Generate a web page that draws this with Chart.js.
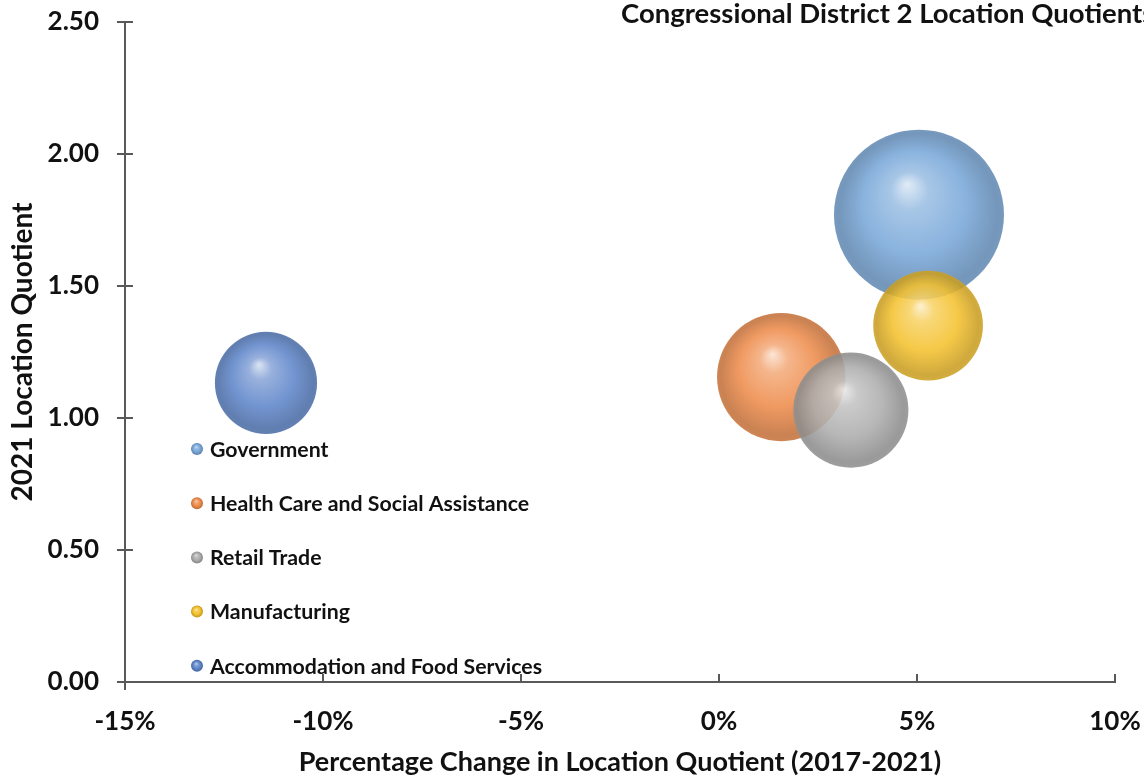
<!DOCTYPE html>
<html>
<head>
<meta charset="utf-8">
<script src="https://cdn.jsdelivr.net/npm/chart.js@4.4.1/dist/chart.umd.min.js"></script>
<style>
  html, body { margin: 0; padding: 0; background: #fff; overflow: hidden; }
  #wrap { width: 1144px; height: 778px; position: relative; }
</style>
</head>
<body>
<div id="wrap"><canvas id="chart"></canvas></div>
<script>
const title = "Congressional District 2 Location Quotients";
const categories = [
  "Government",
  "Health Care and Social Assistance",
  "Retail Trade",
  "Manufacturing",
  "Accommodation and Food Services"
];
const pctChange = [5.05, 1.57, 3.33, 5.28, -11.44];
const locationQuotient = [1.77, 1.155, 1.03, 1.35, 1.133];
const employment = [7200, 4100, 3300, 3000, 2600];
const xTicks = [-15, -10, -5, 0, 5, 10];
const yTicks = [0, 0.5, 1, 1.5, 2, 2.5];
const colors = ["#76a6d8", "#ee8a48", "#ababab", "#f4c02a", "#5c84c9"];

const FONT = "Lato, 'Open Sans', sans-serif";
const maxBubble = 85; // px radius for the largest bubble
const maxEmp = Math.max(...employment);

const rgb = (hex) => [1, 3, 5].map((i) => parseInt(hex.slice(i, i + 2), 16));
const mix = (hex, target, t, a = 1) => {
  const c = rgb(hex).map((v) => Math.round(v + (target - v) * t));
  return `rgba(${c[0]},${c[1]},${c[2]},${a})`;
};

// 3D-ish sphere fill like Excel's bubble effect
function sphere(ctx, cx, cy, r, hex, alpha) {
  if (![cx, cy, r].every(Number.isFinite) || r <= 0) return mix(hex, 0, 0, alpha);
  const g = ctx.createRadialGradient(cx - 0.14 * r, cy - 0.36 * r, 0, cx, cy, r);
  g.addColorStop(0, mix(hex, 255, 0.75, alpha));
  g.addColorStop(0.22, mix(hex, 255, 0.28, alpha));
  g.addColorStop(0.6, mix(hex, 255, 0.02, alpha));
  g.addColorStop(0.93, mix(hex, 0, 0.18, alpha));
  g.addColorStop(1, mix(hex, 0, 0.16, alpha));
  return g;
}

const datasets = categories.map((name, i) => ({
  label: name,
  data: [{ x: pctChange[i], y: locationQuotient[i], r: maxBubble * Math.sqrt(employment[i] / maxEmp) }],
  order: categories.length - i,
  borderWidth: 0,
  backgroundColor: (c) => {
    if (c.type !== "data" || !c.raw) return colors[i];
    const { x, y } = c.chart.scales;
    if (!x || !y) return colors[i];
    return sphere(c.chart.ctx, x.getPixelForValue(c.raw.x), y.getPixelForValue(c.raw.y), c.raw.r, colors[i], 0.88);
  }
}));

const noPad = (s) => {
  s.paddingTop = s.paddingBottom = s.paddingLeft = s.paddingRight = 0;
};

const extras = {
  id: "extras",
  afterDraw(chart) {
    const { ctx, scales: { x, y } } = chart;
    ctx.save();
    // tick marks
    ctx.strokeStyle = "#595959";
    ctx.lineWidth = 2;
    ctx.beginPath();
    yTicks.forEach((v) => {
      const py = y.getPixelForValue(v);
      ctx.moveTo(x.left - 8, py);
      ctx.lineTo(x.left + 8, py);
    });
    xTicks.forEach((v) => {
      const px = x.getPixelForValue(v);
      ctx.moveTo(px, y.bottom);
      ctx.lineTo(px, y.bottom - 8);
    });
    ctx.moveTo(x.left, y.bottom);
    ctx.lineTo(x.left, y.bottom + 8);
    ctx.stroke();

    // title (runs off the right edge like the original)
    ctx.fillStyle = "#111";
    ctx.font = `bold 27.5px ${FONT}`;
    ctx.textBaseline = "middle";
    ctx.textAlign = "left";
    ctx.fillText(title, 621, 14);

    // legend inside plot area
    ctx.font = `bold 21.3px ${FONT}`;
    categories.forEach((name, i) => {
      const ly = 449 + i * 54.2;
      ctx.beginPath();
      ctx.fillStyle = sphere(ctx, 197, ly, 6, colors[i], 1);
      ctx.arc(197, ly, 6, 0, Math.PI * 2);
      ctx.fill();
      ctx.fillStyle = "#111";
      ctx.fillText(name, 210, ly + 1);
    });
    ctx.restore();
  }
};

new Chart(document.getElementById("chart"), {
  type: "bubble",
  data: { datasets },
  plugins: [extras],
  options: {
    responsive: true,
    maintainAspectRatio: false,
    animation: false,
    events: [],
    layout: { autoPadding: false, padding: { top: 22, right: 29, left: 0, bottom: 0 } },
    plugins: { legend: { display: false }, tooltip: { enabled: false } },
    scales: {
      x: {
        type: "linear",
        min: -15,
        max: 10,
        afterBuildTicks: (s) => { s.ticks = xTicks.map((value) => ({ value })); },
        afterFit: (s) => { s.height = 96; noPad(s); },
        grid: { display: false, drawTicks: false },
        border: { display: true, color: "#595959", width: 2 },
        ticks: {
          padding: 24,
          color: "#111",
          font: { family: FONT, size: 26, weight: "bold" },
          callback: (v) => `${v}%`,
          maxRotation: 0
        },
        title: {
          display: true,
          text: "Percentage Change in Location Quotient (2017-2021)",
          color: "#111",
          font: { family: FONT, size: 27, weight: "bold" },
          padding: { top: 0, bottom: 0 }
        }
      },
      y: {
        type: "linear",
        min: 0,
        max: 2.5,
        afterBuildTicks: (s) => { s.ticks = yTicks.map((value) => ({ value })); },
        afterFit: (s) => { s.width = 125; noPad(s); },
        grid: { display: false, drawTicks: false },
        border: { display: true, color: "#595959", width: 2 },
        ticks: {
          padding: 26,
          color: "#111",
          font: { family: FONT, size: 26, weight: "bold" },
          callback: (v) => v.toFixed(2)
        },
        title: {
          display: true,
          text: "2021 Location Quotient",
          color: "#111",
          font: { family: FONT, size: 28, weight: "bold" },
          padding: { top: 6, bottom: 0 }
        }
      }
    }
  }
});
</script>
</body>
</html>
